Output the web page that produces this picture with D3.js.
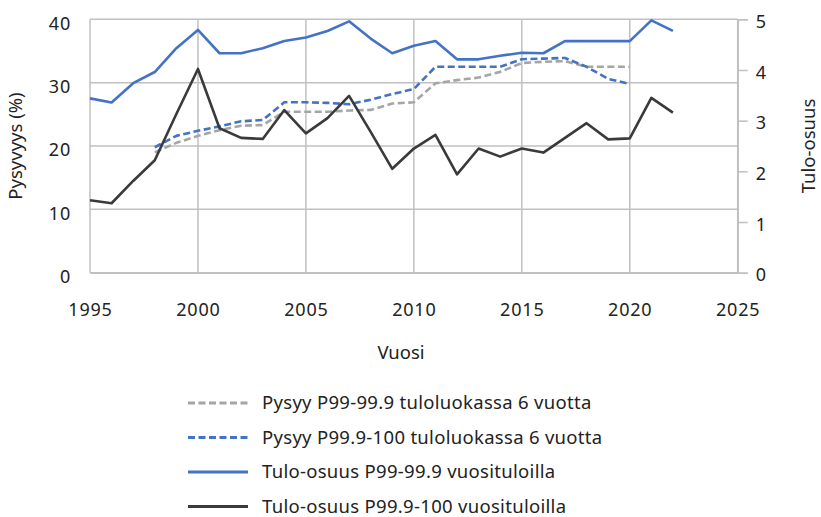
<!DOCTYPE html>
<html>
<head>
<meta charset="utf-8">
<script src="https://cdn.jsdelivr.net/npm/d3@7/dist/d3.min.js"></script>
<style>
  html, body { margin: 0; padding: 0; background: #fff; }
  svg text { font-family: "Noto Sans", "Open Sans", sans-serif; fill: #222; }
</style>
</head>
<body>
<svg id="chart" width="821" height="517"></svg>
<script>
// ---- Data ----
const yearsTulo = [1995,1996,1997,1998,1999,2000,2001,2002,2003,2004,2005,2006,2007,2008,2009,2010,2011,2012,2013,2014,2015,2016,2017,2018,2019,2020,2021,2022];
const tuloP99 = [3.44,3.36,3.74,3.96,4.43,4.79,4.33,4.33,4.43,4.57,4.64,4.77,4.96,4.62,4.33,4.48,4.57,4.21,4.21,4.28,4.34,4.33,4.57,4.57,4.57,4.57,4.98,4.77];
const tuloP999 = [1.43,1.37,1.81,2.22,3.13,4.02,2.85,2.66,2.64,3.21,2.75,3.05,3.49,2.78,2.05,2.45,2.72,1.94,2.45,2.29,2.45,2.37,2.66,2.95,2.63,2.65,3.45,3.16];

const yearsPysyy = [1998,1999,2000,2001,2002,2003,2004,2005,2006,2007,2008,2009,2010,2011,2012,2013,2014,2015,2016,2017,2018,2019,2020];
const pysyyP99 = [19.0,20.5,21.6,22.5,23.2,23.3,25.4,25.4,25.4,25.6,25.7,26.7,26.9,29.9,30.4,30.8,31.7,33.1,33.3,33.4,32.5,32.5,32.5];
const pysyyP999 = [19.8,21.6,22.4,23.1,23.9,24.1,26.9,26.9,26.8,26.6,27.3,28.2,29.0,32.5,32.5,32.5,32.5,33.7,33.8,33.9,32.5,30.6,29.8];

const xTicks = [1995,2000,2005,2010,2015,2020,2025];
const leftTicks = [0,10,20,30,40];
const rightTicks = [0,1,2,3,4,5];

const legendLabels = [
  "Pysyy P99-99.9 tuloluokassa 6 vuotta",
  "Pysyy P99.9-100 tuloluokassa 6 vuotta",
  "Tulo-osuus P99-99.9 vuosituloilla",
  "Tulo-osuus P99.9-100 vuosituloilla"
];

// ---- Layout ----
const svg = d3.select("#chart");
const pLeft = 90, pRight = 737.7, pTop = 19.3, pBottom = 272.7;
const x = d3.scaleLinear().domain([1995, 2025]).range([pLeft, pRight]);
const yL = d3.scaleLinear().domain([0, 40]).range([pBottom, pTop]);
const yR = d3.scaleLinear().domain([0, 5]).range([pBottom, pTop]);

const gridColor = "#c0c0c0";
const grey = "#a5a5a5", blue = "#4472c4", dark = "#3a3a3a";

// gridlines
const g = svg.append("g");
g.selectAll(".hg").data(leftTicks).enter().append("line")
  .attr("x1", pLeft).attr("x2", pRight)
  .attr("y1", d => yL(d)).attr("y2", d => yL(d))
  .attr("stroke", gridColor).attr("stroke-width", 1.5);
g.selectAll(".vg").data(xTicks).enter().append("line")
  .attr("x1", d => x(d)).attr("x2", d => x(d))
  .attr("y1", pTop).attr("y2", pBottom)
  .attr("stroke", gridColor).attr("stroke-width", 1.5);

// axes
const fs = 18;
const xAxis = svg.append("g").attr("transform", `translate(0,${pBottom})`)
  .call(d3.axisBottom(x).tickValues(xTicks).tickFormat(d3.format("d")).tickSize(0).tickPadding(31));
xAxis.select(".domain").attr("stroke", gridColor).attr("stroke-width", 1.5);
xAxis.selectAll("text").attr("font-size", fs).attr("letter-spacing", "0.8px");

const yAxisL = svg.append("g").attr("transform", `translate(${pLeft},0)`)
  .call(d3.axisLeft(yL).tickValues(leftTicks).tickSize(0).tickPadding(19));
yAxisL.select(".domain").remove();
yAxisL.selectAll("text").attr("font-size", fs).attr("letter-spacing", "0.8px").attr("dy", "0.55em");

const yAxisR = svg.append("g").attr("transform", `translate(${pRight},0)`)
  .call(d3.axisRight(yR).tickValues(rightTicks).tickFormat(d3.format("d")).tickSize(10).tickPadding(8));
yAxisR.select(".domain").attr("stroke", gridColor).attr("stroke-width", 1.5);
yAxisR.selectAll("line").attr("stroke", gridColor).attr("stroke-width", 1.5);
yAxisR.selectAll("text").attr("font-size", fs).attr("letter-spacing", "0.8px").attr("dy", "0.45em");

// axis titles
svg.append("text").attr("transform", "translate(22,146) rotate(-90)")
  .attr("text-anchor", "middle").attr("font-size", 18.5).text("Pysyvyys (%)");
svg.append("text").attr("transform", "translate(815,146) rotate(-90)")
  .attr("text-anchor", "middle").attr("font-size", 18.5).text("Tulo-osuus");
svg.append("text").attr("x", 401).attr("y", 359)
  .attr("text-anchor", "middle").attr("font-size", 18.5).text("Vuosi");

// lines
const lineL = d3.line().x(d => x(d[0])).y(d => yL(d[1]));
const lineR = d3.line().x(d => x(d[0])).y(d => yR(d[1]));
const series = [
  { data: d3.zip(yearsPysyy, pysyyP99), gen: lineL, color: grey, dash: "7,3.5" },
  { data: d3.zip(yearsPysyy, pysyyP999), gen: lineL, color: blue, dash: "7,3.5" },
  { data: d3.zip(yearsTulo, tuloP99), gen: lineR, color: blue, dash: null },
  { data: d3.zip(yearsTulo, tuloP999), gen: lineR, color: dark, dash: null }
];
series.forEach(s => {
  svg.append("path").attr("d", s.gen(s.data))
    .attr("fill", "none").attr("stroke", s.color).attr("stroke-width", 2.6)
    .attr("stroke-linejoin", "round")
    .attr("stroke-dasharray", s.dash);
});

// legend
const legend = svg.append("g");
legendLabels.forEach((lab, i) => {
  const yy = 403 + i * 34.5;
  const s = series[i];
  legend.append("line").attr("x1", 188).attr("x2", 248).attr("y1", yy).attr("y2", yy)
    .attr("stroke", s.color).attr("stroke-width", 3)
    .attr("stroke-dasharray", s.dash);
  legend.append("text").attr("x", 262).attr("y", yy).attr("dy", "0.35em")
    .attr("font-size", 18.5).attr("letter-spacing", "0.3px").text(lab);
});
</script>
</body>
</html>
